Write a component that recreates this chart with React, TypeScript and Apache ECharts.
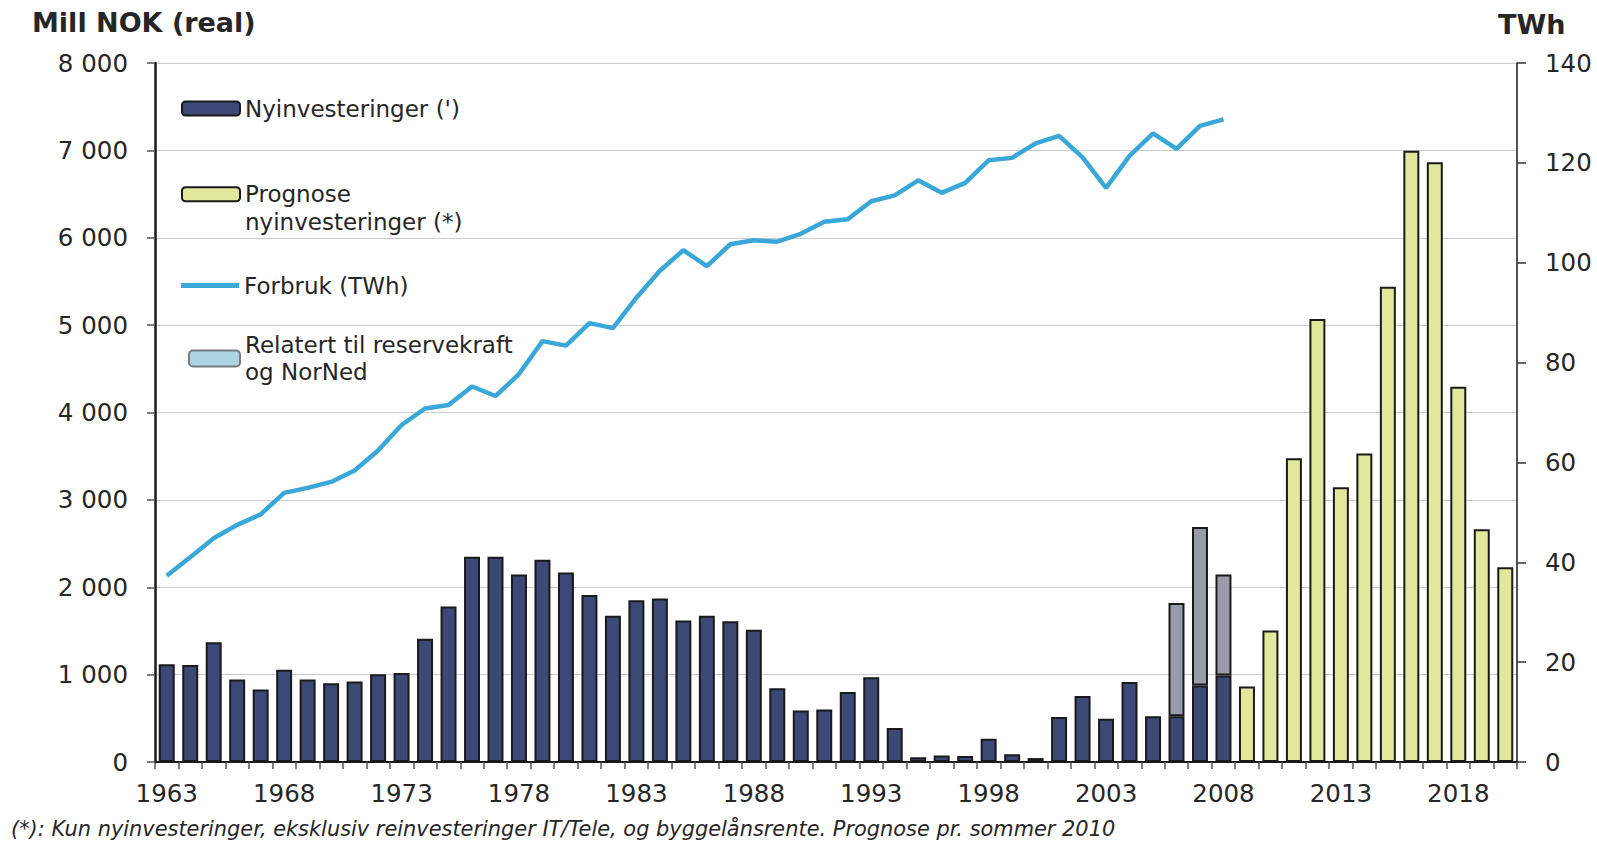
import React, { useEffect, useRef } from 'react';
import * as echarts from 'echarts';

const years = [
  '1963', '1964', '1965', '1966', '1967', '1968', '1969', '1970', '1971', '1972',
  '1973', '1974', '1975', '1976', '1977', '1978', '1979', '1980', '1981', '1982',
  '1983', '1984', '1985', '1986', '1987', '1988', '1989', '1990', '1991', '1992',
  '1993', '1994', '1995', '1996', '1997', '1998', '1999', '2000', '2001', '2002',
  '2003', '2004', '2005', '2006', '2007', '2008', '2009', '2010', '2011', '2012',
  '2013', '2014', '2015', '2016', '2017', '2018', '2019', '2020',
];

// Nyinvesteringer (') 1963-2008, Mill NOK (real)
const nyinvesteringer = [
  1120, 1110, 1370, 945, 830, 1055, 945, 900, 920, 1005,
  1020, 1410, 1780, 2350, 2350, 2145, 2315, 2170, 1910, 1675,
  1850, 1870, 1620, 1675, 1610, 1515, 845, 590, 600, 800,
  970, 390, 55, 75, 70, 265, 90, 45, 515, 755,
  495, 915, 525, 525, 875, 990,
];

// Relatert til reservekraft og NorNed
const reserveYears = ['2006', '2007', '2008'];
const reserveValues = [1295, 1815, 1155];

// Prognose nyinvesteringer (*)
const prognoseYears = ['2009', '2010', '2011', '2012', '2013', '2014', '2015', '2016', '2017', '2018', '2019', '2020'];
const prognoseValues = [865, 1505, 3475, 5070, 3145, 3530, 5440, 6995, 6865, 4295, 2665, 2230];

// Forbruk (TWh) 1963-2008
const forbruk = [
  37.3, 41.0, 44.8, 47.5, 49.6, 53.9, 54.9, 56.1, 58.4, 62.4,
  67.5, 70.8, 71.5, 75.2, 73.3, 77.7, 84.3, 83.4, 87.9, 86.9,
  93.0, 98.4, 102.5, 99.3, 103.7, 104.5, 104.2, 105.8, 108.2, 108.7,
  112.3, 113.5, 116.5, 114.0, 116.0, 120.5, 121.0, 123.9, 125.4, 121.1,
  115.0, 121.4, 125.9, 122.8, 127.4, 128.7,
];

const NAME_NY = "Nyinvesteringer (')";
const NAME_PROG = 'Prognose nyinvesteringer (*)';
const NAME_FORBRUK = 'Forbruk (TWh)';
const NAME_RES = 'Relatert til reservekraft og NorNed';

const FONT = 'DejaVu Sans';
const TXT = '#262626';

export default function App() {
  const ref = useRef<HTMLDivElement>(null);

  useEffect(() => {
    if (!ref.current) return;
    const chart = echarts.init(ref.current, null, { renderer: 'svg' });

    const byYear = (ys: string[], vs: number[]) =>
      years.map((y) => {
        const k = ys.indexOf(y);
        return k >= 0 ? vs[k] : null;
      });

    const nyData = years.map((_, i) => (i < nyinvesteringer.length ? nyinvesteringer[i] : null));
    const lineData = years.map((_, i) => (i < forbruk.length ? forbruk[i] : null));

    const legendText = { fontFamily: FONT, fontSize: 23, color: TXT };
    const legendBase = {
      orient: 'horizontal',
      selectedMode: false,
      itemGap: 0,
      padding: 0,
      textStyle: legendText,
    };

    const option: any = {
      animation: false,
      backgroundColor: '#ffffff',
      textStyle: { fontFamily: FONT },
      grid: { left: 155, right: 80, top: 63, bottom: 80, containLabel: false },
      legend: [
        {
          ...legendBase,
          data: [NAME_NY],
          left: 181,
          top: 97,
          itemWidth: 58,
          itemHeight: 14,
          itemStyle: { borderColor: '#1a1a1a', borderWidth: 2 },
        },
        {
          ...legendBase,
          data: [NAME_PROG],
          left: 181,
          top: 153,
          itemWidth: 58,
          itemHeight: 14,
          itemStyle: { borderColor: '#1a1a1a', borderWidth: 2 },
          formatter: () => '\nPrognose\nnyinvesteringer (*)',
          textStyle: { ...legendText, lineHeight: 27.5 },
        },
        {
          ...legendBase,
          data: [NAME_FORBRUK],
          left: 181,
          top: 274,
          icon: 'rect',
          itemWidth: 58,
          itemHeight: 5,
          itemStyle: { color: '#3aa7d9', borderWidth: 0 },
        },
        {
          ...legendBase,
          data: [NAME_RES],
          left: 188,
          top: 331,
          itemWidth: 51,
          itemHeight: 16,
          itemStyle: { color: '#add4e2', borderColor: '#7a7a7a', borderWidth: 2 },
          formatter: () => 'Relatert til reservekraft\nog NorNed',
          textStyle: { ...legendText, lineHeight: 27.5 },
        },
      ],
      graphic: [
        {
          type: 'text',
          x: 32,
          y: 22,
          style: {
            text: 'Mill NOK (real)',
            font: `bold 27px "${FONT}"`,
            fill: TXT,
            textAlign: 'left',
            textVerticalAlign: 'middle',
          },
        },
        {
          type: 'text',
          x: 1498,
          y: 24,
          style: {
            text: 'TWh',
            font: `bold 27px "${FONT}"`,
            fill: TXT,
            textAlign: 'left',
            textVerticalAlign: 'middle',
          },
        },
        {
          type: 'text',
          x: 11,
          y: 829,
          style: {
            text: '(*): Kun nyinvesteringer, eksklusiv reinvesteringer IT/Tele, og byggelånsrente. Prognose pr. sommer 2010',
            font: `italic 20.9px "${FONT}"`,
            fill: TXT,
            textAlign: 'left',
            textVerticalAlign: 'middle',
          },
        },
      ],
      xAxis: {
        type: 'category',
        data: years,
        boundaryGap: true,
        axisLine: { show: true, lineStyle: { color: '#1a1a1a', width: 2 } },
        axisTick: { show: true, interval: 0, alignWithLabel: false, length: 7, lineStyle: { color: '#555', width: 1.5 } },
        axisLabel: { interval: 4, margin: 19, fontFamily: FONT, fontSize: 24.5, color: TXT },
        splitLine: { show: false },
      },
      yAxis: [
        {
          type: 'value',
          min: 0,
          max: 8000,
          interval: 1000,
          position: 'left',
          axisLine: { show: true, lineStyle: { color: '#1a1a1a', width: 2.5 } },
          axisTick: { show: true, length: 8, lineStyle: { color: '#555', width: 1.5 } },
          axisLabel: {
            margin: 27,
            fontFamily: FONT,
            fontSize: 24.5,
            color: TXT,
            formatter: (v: number) => (v === 0 ? '0' : `${v / 1000} 000`),
          },
          splitLine: { show: true, lineStyle: { color: '#cccccc', width: 1.2 } },
        },
        {
          type: 'value',
          min: 0,
          max: 140,
          interval: 20,
          position: 'right',
          axisLine: { show: true, lineStyle: { color: '#1a1a1a', width: 1.5 } },
          axisTick: { show: true, length: 9, lineStyle: { color: '#333', width: 1.5 } },
          axisLabel: { margin: 28, fontFamily: FONT, fontSize: 24.5, color: TXT },
          splitLine: { show: false },
        },
      ],
      series: [
        {
          name: NAME_NY,
          type: 'bar',
          stack: 'inv',
          barCategoryGap: '32%',
          data: nyData,
          itemStyle: { color: '#3c4875', borderColor: '#1a1a1a', borderWidth: 2 },
        },
        {
          name: NAME_RES,
          type: 'bar',
          stack: 'inv',
          data: byYear(reserveYears, reserveValues),
          itemStyle: { color: '#9a9ba8', borderColor: '#1a1a1a', borderWidth: 2 },
        },
        {
          name: NAME_PROG,
          type: 'bar',
          stack: 'inv',
          data: byYear(prognoseYears, prognoseValues),
          itemStyle: { color: '#dfe89b', borderColor: '#1a1a1a', borderWidth: 2 },
        },
        {
          name: NAME_FORBRUK,
          type: 'line',
          yAxisIndex: 1,
          data: lineData,
          symbol: 'none',
          connectNulls: false,
          lineStyle: { color: '#3aa7d9', width: 4.5 },
          itemStyle: { color: '#3aa7d9' },
          z: 5,
        },
      ],
    };

    chart.setOption(option);
    return () => chart.dispose();
  }, []);

  return (
    <div
      ref={ref}
      style={{ position: 'fixed', left: 0, top: 0, width: '1597px', height: '842px', background: '#fff' }}
    />
  );
}
